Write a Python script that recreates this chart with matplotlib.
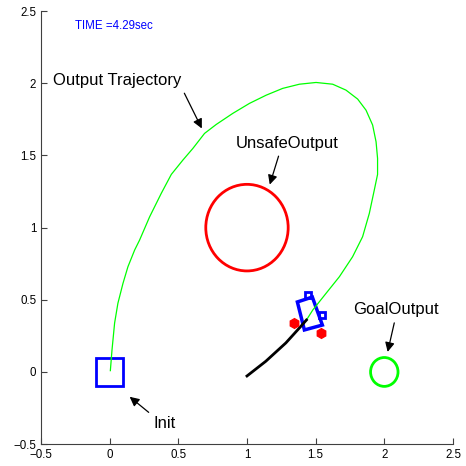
import matplotlib
matplotlib.use('Agg')
import matplotlib.pyplot as plt
from matplotlib.patches import Circle, Rectangle, Polygon

plt.rcParams['font.family'] = ['Liberation Sans', 'DejaVu Sans']

# trajectoire de sortie (vert)
traj_x = [0.005, 0.017, 0.036, 0.060, 0.097, 0.133, 0.182, 0.218, 0.291, 0.376, 0.449,
          0.533, 0.606, 0.691, 0.776, 0.897, 1.018, 1.140, 1.260, 1.382, 1.503, 1.624,
          1.721, 1.806, 1.867, 1.915, 1.940, 1.951, 1.951, 1.927, 1.891, 1.842, 1.769,
          1.673, 1.576, 1.479, 1.433]
traj_y = [0.009, 0.152, 0.339, 0.476, 0.614, 0.729, 0.845, 0.914, 1.075, 1.238, 1.369,
          1.468, 1.549, 1.653, 1.715, 1.792, 1.861, 1.918, 1.965, 1.994, 2.006, 1.994,
          1.953, 1.891, 1.814, 1.711, 1.595, 1.480, 1.369, 1.260, 1.099, 0.937, 0.798,
          0.660, 0.545, 0.429, 0.360]

# trace du vehicule (noir)
trail_x = [1.00, 1.137, 1.283, 1.382, 1.433]
trail_y = [-0.028, 0.074, 0.201, 0.305, 0.360]

# vehicule
car_x = [1.367, 1.476, 1.549, 1.418]
car_y = [0.485, 0.519, 0.325, 0.291]
wheel_x = [1.447, 1.549]
wheel_y = [0.533, 0.395]
rear_x = [1.345, 1.542]
rear_y = [0.339, 0.270]

unsafe_center = (1.0, 1.0)
unsafe_radius = 0.3
goal_center = (2.0, 0.0)
goal_radius = 0.1
init_center = (0.0, 0.0)
init_half = 0.1

fig = plt.figure(figsize=(4.66, 4.66), dpi=100)
ax = fig.add_axes([0.088, 0.047, 0.884, 0.929])

ax.plot(traj_x, traj_y, color='lime', lw=0.9, solid_joinstyle='round')
ax.plot(trail_x, trail_y, color='black', lw=2, solid_joinstyle='round')

ax.add_patch(Circle(unsafe_center, unsafe_radius, fill=False, ec='red', lw=2))
ax.add_patch(Circle(goal_center, goal_radius, fill=False, ec='lime', lw=2))
ax.add_patch(Rectangle((init_center[0] - init_half, init_center[1] - init_half),
                       2 * init_half, 2 * init_half, fill=False, ec='blue', lw=2))
ax.add_patch(Polygon(list(zip(car_x, car_y)), closed=True, fill=False, ec='blue', lw=2.5))
ax.plot(wheel_x, wheel_y, 's', mfc='none', mec='blue', ms=4.5, mew=2)
ax.plot(rear_x, rear_y, 'h', color='red', ms=7)

ax.text(-0.25, 2.40, 'TIME =4.29sec', color='blue', fontsize=8.3, va='center')

arrow = dict(arrowstyle='-|>', color='black', lw=0.9, mutation_scale=14)
ax.annotate('Output Trajectory', xy=(0.68, 1.67), xytext=(-0.41, 2.02),
            fontsize=12, va='center', arrowprops=dict(arrow, relpos=(1.0, 0.0)))
ax.annotate('UnsafeOutput', xy=(1.16, 1.28), xytext=(0.92, 1.585),
            fontsize=12, va='center', arrowprops=dict(arrow, relpos=(0.43, 0.0)))
ax.annotate('GoalOutput', xy=(2.02, 0.12), xytext=(1.77, 0.43),
            fontsize=12, va='center', arrowprops=dict(arrow, relpos=(0.5, 0.0)))
ax.annotate('Init', xy=(0.13, -0.16), xytext=(0.32, -0.36),
            fontsize=12, va='center', arrowprops=dict(arrow, relpos=(0.0, 1.0)))

ax.set_xlim(-0.5, 2.5)
ax.set_ylim(-0.5, 2.5)
ax.set_xticks([-0.5, 0, 0.5, 1, 1.5, 2, 2.5])
ax.set_yticks([-0.5, 0, 0.5, 1, 1.5, 2, 2.5])
ax.set_xticklabels(['\u22120.5', '0', '0.5', '1', '1.5', '2', '2.5'])
ax.set_yticklabels(['\u22120.5', '0', '0.5', '1', '1.5', '2', '2.5'])
ax.spines['top'].set_visible(False)
ax.spines['right'].set_visible(False)
for s in ['left', 'bottom']:
    ax.spines[s].set_color('#404040')
ax.tick_params(direction='in', length=4, labelsize=8.3, colors='#404040',
               labelcolor='black')

fig.savefig('out.png', dpi=100)
